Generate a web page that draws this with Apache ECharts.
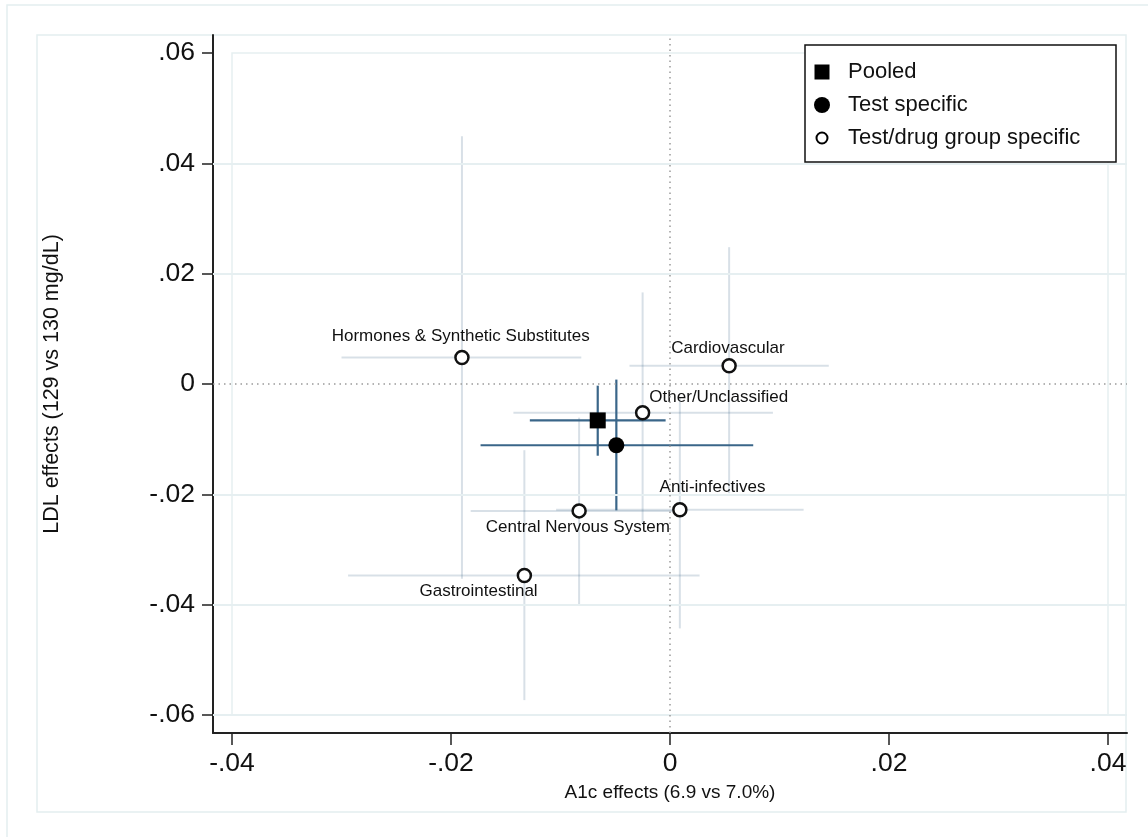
<!DOCTYPE html>
<html>
<head>
<meta charset="utf-8">
<title>A1c and LDL effects</title>
<script src="https://cdn.jsdelivr.net/npm/echarts@6/dist/echarts.min.js"></script>
<style>
  html, body { margin: 0; padding: 0; background: #fff; }
  #chart { width: 1148px; height: 837px; }
</style>
</head>
<body>
<div id="chart"></div>
<script>
// Summary estimates (point + 95% CI) for A1c and LDL effects
const summaryNames = ['Pooled', 'Test specific'];
const summaryA1c   = [-0.0066, -0.0049];
const summaryA1cLo = [-0.0128, -0.0173];
const summaryA1cHi = [-0.0004,  0.0076];
const summaryLDL   = [-0.0066, -0.0111];
const summaryLDLLo = [-0.0130, -0.0229];
const summaryLDLHi = [-0.0003,  0.0008];

// Test/drug group specific estimates
const groupNames = [
  'Hormones & Synthetic Substitutes',
  'Cardiovascular',
  'Other/Unclassified',
  'Central Nervous System',
  'Anti-infectives',
  'Gastrointestinal'
];
const groupA1c   = [-0.0190,  0.0054, -0.0025, -0.0083,  0.0009, -0.0133];
const groupA1cLo = [-0.0300, -0.0037, -0.0143, -0.0182, -0.0104, -0.0294];
const groupA1cHi = [-0.0081,  0.0145,  0.0094,  0.0016,  0.0122,  0.0027];
const groupLDL   = [ 0.0048,  0.0033, -0.0052, -0.0230, -0.0228, -0.0347];
const groupLDLLo = [-0.0353, -0.0198, -0.0255, -0.0401, -0.0443, -0.0573];
const groupLDLHi = [ 0.0449,  0.0248,  0.0166, -0.0061, -0.0025, -0.0120];

// Axis ticks and labels
const xTickValues = [-0.04, -0.02, 0, 0.02, 0.04];
const xTickLabels = ['-.04', '-.02', '0', '.02', '.04'];
const yTickValues = [-0.06, -0.04, -0.02, 0, 0.02, 0.04, 0.06];
const yTickLabels = ['-.06', '-.04', '-.02', '0', '.02', '.04', '.06'];
const yGridValues = [0.04, 0.02, -0.02, -0.04, -0.06];

// Label placement around each group marker (pixels from the marker centre)
const labelPlacement = {
  'Hormones & Synthetic Substitutes': { align: 'center', dx: 0,    dy: -19.5 },
  'Cardiovascular':                   { align: 'center', dx: 0,    dy: -16.5 },
  'Other/Unclassified':               { align: 'left',   dx: 8,    dy: -14.5 },
  'Central Nervous System':           { align: 'center', dx: 0,    dy: 17.5 },
  'Anti-infectives':                  { align: 'left',   dx: -19,  dy: -21.5 },
  'Gastrointestinal':                 { align: 'right',  dx: 14.5, dy: 17.5 }
};

const FONT = '"Liberation Sans", Arial, Helvetica, sans-serif';
const GROUP_SYMBOL_SIZE = 13;

function tickLabel(values, labels) {
  return function (v) {
    for (let i = 0; i < values.length; i++) {
      if (Math.abs(values[i] - v) < 1e-9) return labels[i];
    }
    return '';
  };
}

function ciRows(a, aLo, aHi, l, lLo, lHi) {
  return a.map((_, i) => [a[i], l[i], aLo[i], aHi[i], lLo[i], lHi[i]]);
}

function ciRenderer(color, width) {
  return function (params, api) {
    const lo = api.coord([api.value(2), api.value(1)]);
    const hi = api.coord([api.value(3), api.value(1)]);
    const bot = api.coord([api.value(0), api.value(4)]);
    const top = api.coord([api.value(0), api.value(5)]);
    const style = { stroke: color, lineWidth: width, fill: null };
    return {
      type: 'group',
      children: [
        { type: 'line', shape: { x1: lo[0], y1: lo[1], x2: hi[0], y2: hi[1] }, style: style },
        { type: 'line', shape: { x1: top[0], y1: top[1], x2: bot[0], y2: bot[1] }, style: style }
      ]
    };
  };
}

const chart = echarts.init(document.getElementById('chart'), null, { renderer: 'canvas' });

const frameColor = '#e4eef0';
const half = GROUP_SYMBOL_SIZE / 2;

const option = {
  backgroundColor: '#ffffff',
  animation: false,
  textStyle: { fontFamily: FONT },
  grid: { left: 213, right: 21, top: 35, bottom: 104, containLabel: false },
  xAxis: {
    type: 'value',
    min: -0.041735,
    max: 0.041735,
    name: 'A1c effects (6.9 vs 7.0%)',
    nameLocation: 'middle',
    nameGap: 50,
    nameTextStyle: { fontSize: 19, color: '#111', fontFamily: FONT },
    axisLine: { show: true, onZero: false, lineStyle: { color: '#222', width: 2 } },
    axisTick: { show: true, customValues: xTickValues, length: 12, lineStyle: { color: '#222', width: 1.5 } },
    axisLabel: {
      customValues: xTickValues,
      formatter: tickLabel(xTickValues, xTickLabels),
      fontSize: 26.5, margin: 17, color: '#111', fontFamily: FONT
    },
    splitLine: { show: false }
  },
  yAxis: {
    type: 'value',
    min: -0.06326,
    max: 0.06326,
    name: 'LDL effects (129 vs 130 mg/dL)',
    nameLocation: 'middle',
    nameGap: 150,
    nameRotate: 90,
    nameTextStyle: { fontSize: 21.5, color: '#111', fontFamily: FONT },
    axisLine: { show: true, onZero: false, lineStyle: { color: '#222', width: 2 } },
    axisTick: { show: true, customValues: yTickValues, length: 11, lineStyle: { color: '#222', width: 1.5 } },
    axisLabel: {
      customValues: yTickValues,
      formatter: tickLabel(yTickValues, yTickLabels),
      fontSize: 26.5, margin: 18, color: '#111', fontFamily: FONT
    },
    splitLine: { show: false }
  },
  graphic: [
    { type: 'rect', z: -10, silent: true, shape: { x: 7, y: 5, width: 1160, height: 860 },
      style: { fill: null, stroke: frameColor, lineWidth: 1.5 } },
    { type: 'rect', z: -10, silent: true, shape: { x: 37, y: 35, width: 1089, height: 777 },
      style: { fill: null, stroke: frameColor, lineWidth: 1.5 } },
    // legend
    { type: 'rect', z: 100, silent: true, shape: { x: 805, y: 45, width: 311, height: 117 },
      style: { fill: '#fff', stroke: '#111', lineWidth: 1.5 } },
    { type: 'rect', z: 101, silent: true, shape: { x: 814.5, y: 64.5, width: 15, height: 15 },
      style: { fill: '#000' } },
    { type: 'circle', z: 101, silent: true, shape: { cx: 822, cy: 105, r: 8 },
      style: { fill: '#000' } },
    { type: 'circle', z: 101, silent: true, shape: { cx: 822, cy: 138, r: 5.5 },
      style: { fill: '#fff', stroke: '#000', lineWidth: 2 } },
    { type: 'text', z: 101, silent: true, x: 848, y: 72,
      style: { text: summaryNames[0], font: '22px ' + FONT, fill: '#111', verticalAlign: 'middle' } },
    { type: 'text', z: 101, silent: true, x: 848, y: 105,
      style: { text: summaryNames[1], font: '22px ' + FONT, fill: '#111', verticalAlign: 'middle' } },
    { type: 'text', z: 101, silent: true, x: 848, y: 138,
      style: { text: 'Test/drug group specific', font: '22px ' + FONT, fill: '#111', verticalAlign: 'middle' } }
  ],
  series: [
    {
      // plot region outline, grid lines and zero reference lines
      type: 'scatter',
      data: [],
      silent: true,
      z: 1,
      markArea: {
        silent: true,
        itemStyle: { color: 'rgba(0,0,0,0)', borderColor: '#e6eff1', borderWidth: 1.5 },
        data: [[{ coord: [-0.04, 0.06] }, { coord: [0.04, -0.06] }]]
      },
      markLine: {
        silent: true,
        symbol: ['none', 'none'],
        label: { show: false },
        data: yGridValues.map(v => ({ yAxis: v, lineStyle: { color: '#e6eff1', width: 2, type: 'solid' } }))
          .concat([
            { xAxis: 0, lineStyle: { color: '#9a9a9a', width: 1.5, type: [1.5, 4] } },
            { yAxis: 0, lineStyle: { color: '#9a9a9a', width: 1.5, type: [1.5, 4] } }
          ])
      }
    },
    {
      type: 'custom',
      name: 'group CI',
      z: 2,
      silent: true,
      renderItem: ciRenderer('rgba(58,100,135,0.2)', 2),
      encode: { x: [0, 2, 3], y: [1, 4, 5] },
      data: ciRows(groupA1c, groupA1cLo, groupA1cHi, groupLDL, groupLDLLo, groupLDLHi)
    },
    {
      type: 'custom',
      name: 'summary CI',
      z: 3,
      silent: true,
      renderItem: ciRenderer('#3a6689', 2.2),
      encode: { x: [0, 2, 3], y: [1, 4, 5] },
      data: ciRows(summaryA1c, summaryA1cLo, summaryA1cHi, summaryLDL, summaryLDLLo, summaryLDLHi)
    },
    {
      type: 'scatter',
      name: 'Test/drug group specific',
      z: 4,
      symbol: 'circle',
      symbolSize: GROUP_SYMBOL_SIZE,
      itemStyle: { color: '#fff', borderColor: '#111', borderWidth: 2.5, opacity: 1 },
      label: {
        show: true,
        verticalAlign: 'middle',
        fontSize: 17,
        color: '#111',
        fontFamily: FONT,
        formatter: p => p.name
      },
      data: groupNames.map((n, i) => {
        const lp = labelPlacement[n];
        return {
          name: n,
          value: [groupA1c[i], groupLDL[i]],
          label: { position: [half + lp.dx, half + lp.dy], align: lp.align, verticalAlign: 'middle' }
        };
      })
    },
    {
      type: 'scatter',
      name: summaryNames[0],
      z: 5,
      symbol: 'rect',
      symbolSize: 16,
      itemStyle: { color: '#000', opacity: 1 },
      data: [[summaryA1c[0], summaryLDL[0]]]
    },
    {
      type: 'scatter',
      name: summaryNames[1],
      z: 5,
      symbol: 'circle',
      symbolSize: 16,
      itemStyle: { color: '#000', opacity: 1 },
      data: [[summaryA1c[1], summaryLDL[1]]]
    }
  ]
};

chart.setOption(option);
</script>
</body>
</html>
